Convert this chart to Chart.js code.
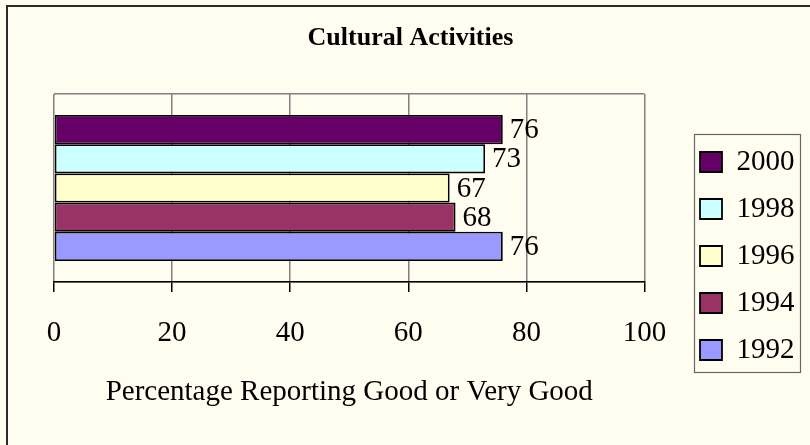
<!DOCTYPE html>
<html>
<head>
<meta charset="utf-8">
<script src="https://cdn.jsdelivr.net/npm/chart.js@4/dist/chart.umd.min.js"></script>
<style>
  html, body { margin: 0; padding: 0; background: #FFFDF0; }
  #wrap { width: 810px; height: 445px; }
</style>
</head>
<body>
<div id="wrap"><canvas id="myChart" width="810" height="445"></canvas></div>
<script>
// data
const years = ["2000", "1998", "1996", "1994", "1992"];
const values = [76, 73, 67, 68, 76];
const colors = ["#660066", "#CCFFFF", "#FFFFCC", "#993366", "#9999FF"];
const category = ["Cultural Activities"];
const xMin = 0;
const xMax = 100;
const xStep = 20;

const serif = "'Liberation Serif', 'Times New Roman', serif";

/* fondo crema y marco exterior */
const fondo = {
  id: "fondo",
  beforeDraw(chart) {
    const c = chart.ctx;
    c.save();
    c.fillStyle = "#FFFDF0";
    c.fillRect(0, 0, chart.width, chart.height);
    c.fillStyle = "#2a2a2a";
    c.fillRect(6, 5, chart.width, 2);
    c.fillRect(6, 5, 2, chart.height);
    c.restore();
  },
};

/* mover la leyenda a su sitio y dibujarle el recuadro */
const leyenda = {
  id: "leyenda",
  afterLayout(chart) {
    const lg = chart.legend;
    const w = lg.width, h = lg.height;
    lg.left = 682;
    lg.right = lg.left + w;
    lg.top = 129.5;
    lg.bottom = lg.top + h;
  },
  afterDraw(chart) {
    const c = chart.ctx;
    c.save();
    c.strokeStyle = "#666";
    c.lineWidth = 1.2;
    c.strokeRect(694.5, 134.5, 106, 238);
    c.restore();
  },
};

/* etiquetas de valor a la derecha de cada barra */
const etiquetas = {
  id: "etiquetas",
  afterDatasetsDraw(chart) {
    const c = chart.ctx;
    c.save();
    c.font = "29px " + serif;
    c.fillStyle = "#000";
    c.textAlign = "left";
    c.textBaseline = "middle";
    chart.data.datasets.forEach((ds, i) => {
      const bar = chart.getDatasetMeta(i).data[0];
      c.fillText(String(ds.data[0]), bar.x + 7, bar.y + 1);
    });
    c.restore();
  },
};

const ctx = document.getElementById("myChart");

new Chart(ctx, {
  type: "bar",
  data: {
    labels: category,
    datasets: years.map((y, i) => ({
      label: y,
      data: [values[i]],
      backgroundColor: colors[i],
      borderColor: "#000",
      borderWidth: 1.8,
      borderSkipped: false,
      categoryPercentage: 0.777,
      barPercentage: 1,
    })),
  },
  options: {
    indexAxis: "y",
    responsive: false,
    animation: false,
    devicePixelRatio: 1,
    layout: { padding: { top: 10, left: 54, right: 43, bottom: 35.4 } },
    plugins: {
      title: {
        display: true,
        text: "Cultural Activities",
        color: "#000",
        font: { family: serif, size: 26, weight: "bold" },
        padding: { top: 12.4, bottom: 40.4 },
      },
      legend: {
        position: "right",
        align: "start",
        labels: {
          color: "#000",
          font: { family: serif, size: 29 },
          boxWidth: 22,
          boxHeight: 20,
          padding: 18,
        },
      },
      tooltip: { enabled: false },
    },
    scales: {
      x: {
        min: xMin,
        max: xMax,
        ticks: {
          stepSize: xStep,
          color: "#000",
          font: { family: serif, size: 29 },
          padding: 24,
          maxRotation: 0,
        },
        grid: { color: "#808080", lineWidth: 1.5, tickColor: "#000", tickLength: 10 },
        border: { color: "#000", width: 1.5 },
        title: {
          display: true,
          text: "Percentage Reporting Good or Very Good",
          color: "#000",
          font: { family: serif, size: 29 },
          padding: { top: 0, bottom: 0 },
        },
      },
      y: {
        ticks: { display: false },
        grid: { color: "#808080", lineWidth: 1.5, drawTicks: false },
        border: { display: false },
      },
    },
  },
  plugins: [fondo, leyenda, etiquetas],
});
</script>
</body>
</html>
